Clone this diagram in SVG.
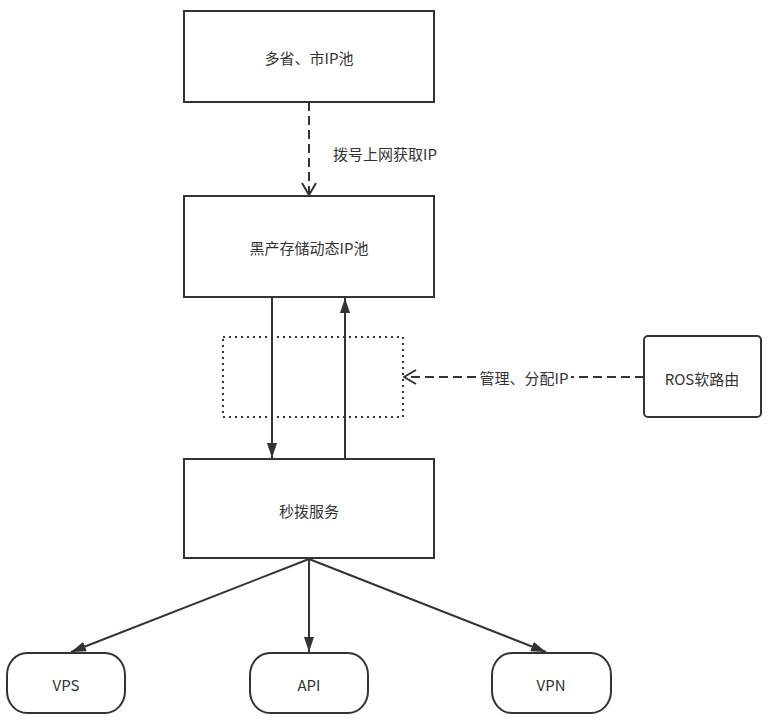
<svg xmlns="http://www.w3.org/2000/svg" width="774" height="720" viewBox="0 0 774 720">
<style>
.box{fill:#fff;stroke:#333;stroke-width:2}
.t{font-family:"PingFang SC","Noto Sans CJK SC","Noto Sans",sans-serif;font-size:15px;fill:#333;text-anchor:middle;dominant-baseline:central}
.ln{fill:none;stroke:#333;stroke-width:2}
.dash{stroke-dasharray:9 5}
</style>
<defs>
<marker id="fill" viewBox="0 0 15 10" refX="15" refY="5" markerWidth="15" markerHeight="10" orient="auto" markerUnits="userSpaceOnUse">
<path d="M0,0 L15,5 L0,10 z" fill="#333"/>
</marker>
<marker id="open" viewBox="0 0 14 16" refX="13" refY="8" markerWidth="14" markerHeight="16" orient="auto" markerUnits="userSpaceOnUse">
<path d="M1,1 L13,8 L1,15" fill="none" stroke="#333" stroke-width="2"/>
</marker>
</defs>
<rect width="774" height="720" fill="#fff"/>
<g id="connectors">
<line class="ln dash" x1="309" y1="102" x2="309" y2="195" marker-end="url(#open)"/>
<line class="ln" x1="272" y1="297" x2="272" y2="458" marker-end="url(#fill)"/>
<line class="ln" x1="345" y1="459" x2="345" y2="298" marker-end="url(#fill)"/>
<line class="ln dash" x1="644" y1="377" x2="404" y2="377" marker-end="url(#open)"/>
<line class="ln" x1="309" y1="559" x2="71" y2="652" marker-end="url(#fill)"/>
<line class="ln" x1="309" y1="559" x2="309" y2="652" marker-end="url(#fill)"/>
<line class="ln" x1="309" y1="559" x2="546" y2="652" marker-end="url(#fill)"/>
<text class="t" x="385" y="153">拨号上网获取IP</text>
<rect x="477" y="367" width="94" height="20" fill="#fff"/>
<text class="t" x="524" y="377">管理、分配IP</text>
</g>
<g id="n1"><rect class="box" x="184" y="11" width="250" height="91"/><text class="t" x="309" y="57">多省、市IP池</text></g>
<g id="n2"><rect class="box" x="184" y="196" width="250" height="101"/><text class="t" x="309" y="247">黑产存储动态IP池</text></g>
<g id="dotted"><rect x="223" y="337" width="180" height="80" fill="none" stroke="#333" stroke-width="2" stroke-dasharray="2 4"/></g>
<g id="n3"><rect class="box" x="184" y="459" width="250" height="99"/><text class="t" x="309" y="510">秒拨服务</text></g>
<g id="ros"><rect class="box" x="644" y="336" width="117" height="81" rx="4"/><text class="t" x="702" y="378">ROS软路由</text></g>
<g id="vps"><rect class="box" x="7" y="653" width="118" height="60" rx="20" ry="22"/><text class="t" x="66" y="684">VPS</text></g>
<g id="api"><rect class="box" x="250" y="653" width="118" height="60" rx="20" ry="22"/><text class="t" x="309" y="684">API</text></g>
<g id="vpn"><rect class="box" x="492" y="653" width="119" height="60" rx="20" ry="22"/><text class="t" x="551" y="684">VPN</text></g>
</svg>
